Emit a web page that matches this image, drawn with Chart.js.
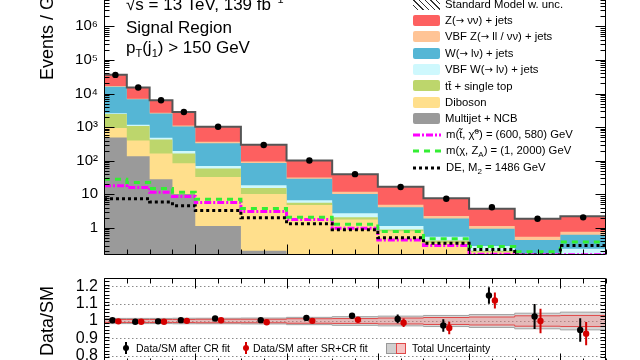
<!DOCTYPE html>
<html>
<head>
<meta charset="utf-8">
<script src="https://cdn.jsdelivr.net/npm/chart.js@4.4.1/dist/chart.umd.min.js"></script>
<style>
html,body{margin:0;padding:0;background:#fff;}
body{width:640px;height:360px;overflow:hidden;position:relative;font-family:"Liberation Sans",Arial,Helvetica,sans-serif;color:#000;}
canvas{position:absolute;left:0;}
#mainCanvas{top:-60px;}
#ratioCanvas{top:262px;}
.txt{position:absolute;white-space:nowrap;font-size:17px;line-height:17px;}
.sup{font-size:11px;position:relative;top:-7px;}
.sub{font-size:11px;position:relative;top:4px;}
.lg{position:absolute;left:413px;height:16px;display:flex;align-items:center;font-size:11.3px;line-height:12px;white-space:nowrap;}
.box{display:inline-block;width:27px;height:11px;margin-right:5px;border-radius:2px;flex:none;}
.lg svg{margin-right:5px;flex:none;}
.arr{font-family:"DejaVu Sans",sans-serif;font-size:10px;}
.lsup{font-size:8px;position:relative;top:-4px;}
.lsub{font-size:8px;position:relative;top:3px;}
.rl{position:absolute;font-size:10.5px;line-height:11px;white-space:nowrap;}
</style>
</head>
<body>
<canvas id="mainCanvas" width="640" height="330"></canvas>
<canvas id="ratioCanvas" width="640" height="118"></canvas>

<div class="txt" style="left:126px;top:-4.4px">√s = 13 TeV, 139 fb<span class="sup">−1</span></div>
<div class="txt" style="left:126px;top:18.6px">Signal Region</div>
<div class="txt" style="left:126px;top:39.4px">p<span class="sub">T</span>(j<span class="sub">1</span>) &gt; 150 GeV</div>

<div class="lg" style="top:-4px"><span class="box" style="border-radius:0;background:repeating-linear-gradient(45deg,#fff 0 3px,#333 3px 4px)"></span><span>Standard Model w. unc.</span></div>
<div class="lg" style="top:12.35px"><span class="box" style="background:#fd6060"></span><span>Z(<span class="arr">→</span> νν) + jets</span></div>
<div class="lg" style="top:28.7px"><span class="box" style="background:#ffc496"></span><span>VBF Z(<span class="arr">→</span> ll / νν) + jets</span></div>
<div class="lg" style="top:45.05px"><span class="box" style="background:#55b6d5"></span><span>W(<span class="arr">→</span> lν) + jets</span></div>
<div class="lg" style="top:61.4px"><span class="box" style="background:#cef8fd"></span><span>VBF W(<span class="arr">→</span> lν) + jets</span></div>
<div class="lg" style="top:77.75px"><span class="box" style="background:#bdd66c"></span><span>tt̄ + single top</span></div>
<div class="lg" style="top:94.1px"><span class="box" style="background:#ffdf8c"></span><span>Diboson</span></div>
<div class="lg" style="top:110.45px"><span class="box" style="background:#9a9a9a"></span><span>Multijet + NCB</span></div>
<div class="lg" style="top:126.8px"><svg width="28" height="12"><line x1="0" y1="6" x2="28" y2="6" stroke="#ff00ff" stroke-width="3" stroke-dasharray="7 2 2 2"/></svg><span>m(t̃, χ̃<span class="lsup">0</span>) = (600, 580) GeV</span></div>
<div class="lg" style="top:143.15px"><svg width="28" height="12"><line x1="0" y1="6" x2="28" y2="6" stroke="#33ee33" stroke-width="3" stroke-dasharray="6 5"/></svg><span>m(χ, Z<span class="lsub">A</span>) = (1, 2000) GeV</span></div>
<div class="lg" style="top:159.5px"><svg width="28" height="12"><line x1="0" y1="6" x2="28" y2="6" stroke="#000" stroke-width="3" stroke-dasharray="3 3"/></svg><span>DE, M<span class="lsub">2</span> = 1486 GeV</span></div>

<svg style="position:absolute;left:120px;top:340px" width="12" height="16"><line x1="6" y1="2" x2="6" y2="14" stroke="#000" stroke-width="2"/><circle cx="6" cy="8" r="3" fill="#000"/></svg>
<div class="rl" style="left:136px;top:342.5px">Data/SM after CR fit</div>
<svg style="position:absolute;left:240px;top:340px" width="12" height="16"><line x1="6" y1="2" x2="6" y2="14" stroke="#d40000" stroke-width="2"/><circle cx="6" cy="8" r="3" fill="#d40000"/></svg>
<div class="rl" style="left:253px;top:342.5px">Data/SM after SR+CR fit</div>
<div style="position:absolute;left:386px;top:343px;width:9px;height:9px;background:#d0d0d0;border:1px solid #999"></div>
<div style="position:absolute;left:396px;top:343px;width:8px;height:9px;background:#f6c4c4;border:1px solid #e04848"></div>
<div class="rl" style="left:412px;top:342.5px">Total Uncertainty</div>

<script>
// ---------------- data (per GeV) ----------------
const binEdges = [200, 250, 300, 350, 400, 500, 600, 700, 800, 900, 1000, 1100, 1200, 1300];
const dataPerGeV = [35830, 15050, 6280, 2821, 1029, 294.6, 102.0, 39.9, 16.6, 7.38, 4.13, 1.87, 2.07];
const zNuNuJets = [19200, 8150, 3620, 1710, 655, 202, 70.5, 27.6, 11.9, 5.45, 2.56, 1.32, 1.46];
const vbfZJets = [700, 250, 130, 70, 40, 9, 2.5, 1.7, 0.8, 0.35, 0.19, 0.11, 0.14];
const wLNuJets = [13400, 5520, 2070, 845, 260, 67, 22.3, 7.55, 2.96, 1.35, 0.66, 0.265, 0.39];
const vbfWJets = [150, 100, 50, 32, 11, 3.4, 1.1, 0.68, 0.24, 0.13, 0.08, 0.045, 0.10];
const ttbarSingleTop = [1500, 680, 267, 79, 26, 5.1, 0.8, 0.29, 0.10, 0.06, 0.02, 0.01, 0.02];
const diboson = [460, 264, 135, 73.7, 31.9, 10.1, 4.75, 1.76, 0.79, 0.355, 0.187, 0.118, 0.118];
const multijetNCB = [490, 136, 28, 10.3, 1.14, 0.21, 0.05, 0.02, 0.01, 0.005, 0.003, 0.002, 0.002];
const stopSignal = [18, 16, 11.6, 8.7, 5.7, 3.1, 1.78, 0.98, 0.44, 0.30, 0.165, 0.16, 0.16];
const zaSignal = [27.9, 22.5, 15, 11.5, 7.1, 3.8, 2.07, 1.28, 0.78, 0.48, 0.28, 0.195, 0.38];
const deSignal = [7.4, 7.4, 5.95, 4.6, 3.3, 2.0, 1.33, 0.88, 0.51, 0.35, 0.23, 0.158, 0.30];
// ratio panel
const ratioCR = [1.004, 0.996, 0.998, 1.005, 1.014, 1.005, 1.018, 1.030, 1.012, 0.974, 1.147, 1.026, 0.948];
const ratioCRErr = [0.002, 0.002, 0.002, 0.003, 0.003, 0.006, 0.010, 0.016, 0.025, 0.036, 0.048, 0.072, 0.068];
const ratioSRCR = [0.998, 0.996, 0.996, 1.001, 1.004, 0.993, 1.001, 1.007, 0.990, 0.960, 1.118, 1.000, 0.927];
const ratioSRCRErr = [0.002, 0.002, 0.002, 0.003, 0.003, 0.006, 0.010, 0.016, 0.024, 0.036, 0.046, 0.070, 0.067];
const uncCR = [0.015, 0.015, 0.015, 0.016, 0.016, 0.017, 0.021, 0.025, 0.028, 0.032, 0.037, 0.045, 0.051];
const uncSRCR = [0.009, 0.009, 0.009, 0.009, 0.010, 0.010, 0.013, 0.014, 0.017, 0.020, 0.023, 0.030, 0.032];
// tick labels
const mainYTicks = [1, 10, 100, 1000, 10000, 100000, 1000000, 10000000];
const ratioYTicks = [0.8, 0.9, 1.0, 1.1, 1.2];

// ---------------- helpers ----------------
const FONT = '"Liberation Sans", Arial, Helvetica, sans-serif';
Chart.defaults.font.family = FONT;
Chart.defaults.color = '#000';
const nBins = binEdges.length - 1;
const binCenters = binEdges.slice(0, -1).map((e, i) => (e + binEdges[i + 1]) / 2);
function stepPoints(vals) {
  const pts = vals.map((v, i) => ({x: binEdges[i], y: v}));
  pts.push({x: binEdges[nBins], y: vals[nBins - 1]});
  return pts;
}
function errPoints(vals, errs, dx) {
  const pts = [];
  vals.forEach((v, i) => {
    const x = binCenters[i] + dx;
    pts.push({x, y: v - errs[i]}, {x, y: v + errs[i]}, {x, y: null});
  });
  return pts;
}
const SUP = {'0':'⁰','1':'¹','2':'²','3':'³','4':'⁴','5':'⁵','6':'⁶','7':'⁷','8':'⁸','9':'⁹'};
function powLabel(v) {
  const e = Math.round(Math.log10(v));
  if (e === 0) return '1';
  if (e === 1) return '10';
  return '10' + String(e).split('').map(c => SUP[c]).join('');
}

function framePlugin(cfg) {
  return {
    id: 'frame_' + cfg.name,
    beforeDatasetsDraw(chart) {
      if (!cfg.grid) return;
      const {ctx, chartArea: a, scales: {y}} = chart;
      ctx.save();
      ctx.strokeStyle = '#8a8a8a'; ctx.lineWidth = 1; ctx.setLineDash([1.5, 2.5]);
      ctx.beginPath();
      cfg.grid.forEach(v => { const py = Math.round(y.getPixelForValue(v)) + 0.5; ctx.moveTo(a.left, py); ctx.lineTo(a.right, py); });
      ctx.stroke();
      ctx.restore();
    },
    afterDatasetsDraw(chart) {
      const {ctx, chartArea: a, scales: {x, y}} = chart;
      ctx.save();
      ctx.strokeStyle = '#000'; ctx.lineWidth = 1; ctx.setLineDash([]);
      const L = Math.round(a.left) + 0.5, R = Math.round(a.right) - 0.5;
      const T = Math.round(a.top) + 0.5, B = Math.round(a.bottom) - 0.5;
      ctx.beginPath();
      ctx.rect(L, T, R - L, B - T);
      for (let v = binEdges[0]; v <= binEdges[nBins]; v += 50) {
        const px = Math.round(x.getPixelForValue(v)) + 0.5;
        const len = v % 200 === 0 ? 10 : 5;
        ctx.moveTo(px, B); ctx.lineTo(px, B - len);
        ctx.moveTo(px, T); ctx.lineTo(px, T + len);
      }
      cfg.yTicks(y).forEach(([v, major]) => {
        const py = Math.round(y.getPixelForValue(v)) + 0.5;
        const len = major ? 10 : 5;
        ctx.moveTo(L, py); ctx.lineTo(L + len, py);
        ctx.moveTo(R, py); ctx.lineTo(R - len, py);
      });
      ctx.stroke();
      ctx.restore();
    }
  };
}
function logTicks(scale) {
  const out = [];
  for (let e = -1; e <= 8; e++) for (let m = 1; m <= 9; m++) {
    const v = m * Math.pow(10, e);
    if (v >= scale.min && v <= scale.max) out.push([v, m === 1]);
  }
  return out;
}
function ratioTicks(scale) {
  const out = [];
  for (let k = 0; k <= 25; k++) {
    const v = 0.75 + k * 0.02;
    if (v >= scale.min && v <= scale.max) out.push([v, Math.abs(v * 10 - Math.round(v * 10)) < 1e-6]);
  }
  return out;
}

// ---------------- main chart ----------------
const stackDefs = [
  {name: 'Multijet + NCB', vals: multijetNCB, color: '#9a9a9a'},
  {name: 'Diboson', vals: diboson, color: '#ffdf8c'},
  {name: 'tt + single top', vals: ttbarSingleTop, color: '#bdd66c'},
  {name: 'VBF W(→ lν) + jets', vals: vbfWJets, color: '#cef8fd'},
  {name: 'W(→ lν) + jets', vals: wLNuJets, color: '#55b6d5'},
  {name: 'VBF Z(→ ll / νν) + jets', vals: vbfZJets, color: '#ffc496'},
  {name: 'Z(→ νν) + jets', vals: zNuNuJets, color: '#fd6060'}
];
let running = new Array(nBins).fill(0);
const stackSets = stackDefs.map((d, i) => {
  running = running.map((r, j) => r + d.vals[j]);
  return {label: d.name, data: stepPoints(running), stepped: true, borderWidth: 1, borderColor: 'rgba(0,0,0,0)',
    pointRadius: 0, fill: 'start', backgroundColor: d.color, order: 10 + i};
});
const smTotal = running.slice();

new Chart(document.getElementById('mainCanvas'), {
  type: 'line',
  data: {
    datasets: [
      ...stackSets,
      {label: 'SM total', data: stepPoints(smTotal), stepped: true, borderWidth: 2, borderColor: '#555', pointRadius: 0, fill: false, order: 5},
      {label: 'stop', data: stepPoints(stopSignal), stepped: true, borderWidth: 3, borderColor: '#ff00ff', borderDash: [7, 2, 2, 2], pointRadius: 0, fill: false, order: 3},
      {label: 'ZA', data: stepPoints(zaSignal), stepped: true, borderWidth: 3, borderColor: '#33ee33', borderDash: [6, 5], pointRadius: 0, fill: false, order: 2},
      {label: 'DE', data: stepPoints(deSignal), stepped: true, borderWidth: 3, borderColor: '#000', borderDash: [3, 3], pointRadius: 0, fill: false, order: 1},
      {label: 'Data', data: dataPerGeV.map((v, i) => ({x: binCenters[i], y: v})), showLine: false, pointRadius: 3.2, pointBorderWidth: 0, pointBackgroundColor: '#000', order: 0}
    ]
  },
  options: {
    responsive: false, animation: false, events: [],
    layout: {padding: {left: 0, right: 34, top: 34, bottom: 5}},
    plugins: {legend: {display: false}, tooltip: {enabled: false}},
    scales: {
      x: {type: 'linear', min: binEdges[0], max: binEdges[nBins], display: false},
      y: {
        type: 'logarithmic', min: 0.1568, max: 3.6e7,
        grid: {display: false, drawTicks: false}, border: {display: false},
        afterBuildTicks: s => { s.ticks = mainYTicks.map(v => ({value: v})); },
        afterFit: s => { s.width = 104; },
        ticks: {autoSkip: false, padding: 6, font: {size: 15}, color: '#000', callback: v => powLabel(v)},
        title: {display: true, text: 'Events / GeV', align: 'end', font: {size: 18}, color: '#000', padding: {top: 37, bottom: 0}}
      }
    }
  },
  plugins: [framePlugin({name: 'main', yTicks: logTicks})]
});

// ---------------- ratio chart ----------------
const band = (c, u, sign) => stepPoints(c.map((_, i) => 1 + sign * u[i]));
const ones = new Array(nBins).fill(1);
new Chart(document.getElementById('ratioCanvas'), {
  type: 'line',
  data: {
    datasets: [
      {label: 'CR unc up', data: band(ones, uncCR, 1), stepped: true, borderWidth: 1, borderColor: '#a0a0a0', backgroundColor: 'rgba(140,140,140,0.35)', fill: '+1', pointRadius: 0, order: 21},
      {label: 'CR unc dn', data: band(ones, uncCR, -1), stepped: true, borderWidth: 1, borderColor: '#a0a0a0', fill: false, pointRadius: 0, order: 20},
      {label: 'SRCR unc up', data: band(ones, uncSRCR, 1), stepped: true, borderWidth: 1, borderColor: '#e04848', backgroundColor: 'rgba(255,120,120,0.32)', fill: '+1', pointRadius: 0, order: 16},
      {label: 'SRCR unc dn', data: band(ones, uncSRCR, -1), stepped: true, borderWidth: 1, borderColor: '#e04848', fill: false, pointRadius: 0, order: 15},
      {label: 'CR err', data: errPoints(ratioCR, ratioCRErr, -6.5), borderWidth: 2, borderColor: '#000', pointRadius: 0, fill: false, spanGaps: false, order: 3},
      {label: 'SRCR err', data: errPoints(ratioSRCR, ratioSRCRErr, 6.5), borderWidth: 2, borderColor: '#d40000', pointRadius: 0, fill: false, spanGaps: false, order: 2},
      {label: 'Data/SM after CR fit', data: ratioCR.map((v, i) => ({x: binCenters[i] - 6.5, y: v})), showLine: false, pointRadius: 3.2, pointBorderWidth: 0, pointBackgroundColor: '#000', order: 1},
      {label: 'Data/SM after SR+CR fit', data: ratioSRCR.map((v, i) => ({x: binCenters[i] + 6.5, y: v})), showLine: false, pointRadius: 3.2, pointBorderWidth: 0, pointBackgroundColor: '#d40000', order: 0}
    ]
  },
  options: {
    responsive: false, animation: false, events: [],
    layout: {padding: {left: 0, right: 34, top: 11, bottom: 12}},
    plugins: {legend: {display: false}, tooltip: {enabled: false}},
    scales: {
      x: {type: 'linear', min: binEdges[0], max: binEdges[nBins], display: false},
      y: {
        type: 'linear', min: 0.75, max: 1.25,
        grid: {display: false, drawTicks: false}, border: {display: false},
        afterBuildTicks: s => { s.ticks = ratioYTicks.map(v => ({value: v})); },
        afterFit: s => { s.width = 104; },
        ticks: {autoSkip: false, padding: 6, font: {size: 16}, color: '#000', callback: v => (v === 1 ? '1' : v.toFixed(1))},
        title: {display: true, text: 'Data/SM', align: 'center', font: {size: 18}, color: '#000', padding: {top: 37, bottom: 0}}
      }
    }
  },
  plugins: [framePlugin({name: 'ratio', yTicks: ratioTicks, grid: ratioYTicks})]
});
</script>
</body>
</html>
